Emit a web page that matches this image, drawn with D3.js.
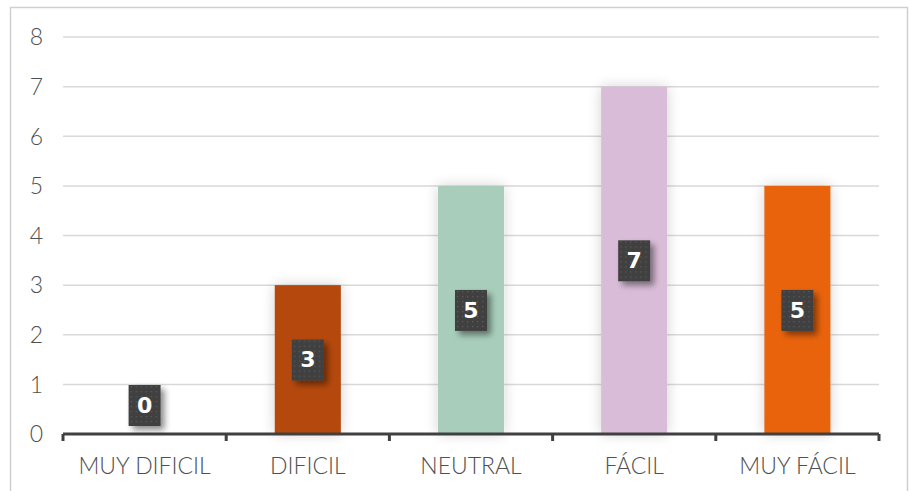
<!DOCTYPE html>
<html><head><meta charset="utf-8">
<script src="https://cdn.jsdelivr.net/npm/d3@7"></script>
<style>body{margin:0;background:#fff}svg{display:block}</style>
</head><body>
<svg id="c" width="912" height="491"></svg>
<script>
const categories = ["MUY DIFICIL", "DIFICIL", "NEUTRAL", "FÁCIL", "MUY FÁCIL"];
const values = [0, 3, 5, 7, 5];
const colors = ["#B5490F", "#B5490F", "#A8CEBB", "#D9BDD8", "#E96410"];
const yTicks = [0, 1, 2, 3, 4, 5, 6, 7, 8];

const svg = d3.select("#c");
const W = 912, H = 491;
const m = {left: 63, right: 33, top: 37, bottom: 57};
const x = d3.scaleBand().domain(categories).range([m.left, W - m.right]).padding(0);
const y = d3.scaleLinear().domain([0, 8]).range([H - m.bottom, m.top]);

const defs = svg.append("defs");
const glow = defs.append("filter").attr("id", "glow").attr("x", "-50%").attr("y", "-20%").attr("width", "200%").attr("height", "140%");
glow.append("feGaussianBlur").attr("in", "SourceAlpha").attr("stdDeviation", 7).attr("result", "b");
glow.append("feComponentTransfer").attr("in", "b").attr("result", "c")
  .append("feFuncA").attr("type", "linear").attr("slope", 0.18);
const gm = glow.append("feMerge");
gm.append("feMergeNode").attr("in", "c");
gm.append("feMergeNode").attr("in", "SourceGraphic");

const sh = defs.append("filter").attr("id", "sh").attr("x", "-50%").attr("y", "-50%").attr("width", "200%").attr("height", "200%");
sh.append("feGaussianBlur").attr("in", "SourceAlpha").attr("stdDeviation", 3).attr("result", "b");
sh.append("feOffset").attr("in", "b").attr("dx", 4).attr("dy", 4).attr("result", "o");
sh.append("feComponentTransfer").attr("in", "o").attr("result", "c")
  .append("feFuncA").attr("type", "linear").attr("slope", 0.45);
const sm = sh.append("feMerge");
sm.append("feMergeNode").attr("in", "c");
sm.append("feMergeNode").attr("in", "SourceGraphic");

const pat = defs.append("pattern").attr("id", "dots").attr("width", 5).attr("height", 5).attr("patternUnits", "userSpaceOnUse");
pat.append("rect").attr("width", 5).attr("height", 5).attr("fill", "#404040");
pat.append("rect").attr("x", 1).attr("y", 1).attr("width", 1.3).attr("height", 1.3).attr("fill", "#5a5a5a");

// chart border
svg.append("rect").attr("x", 10.5).attr("y", 7.5).attr("width", 897).attr("height", 500)
  .attr("fill", "none").attr("stroke", "#d0d0d0").attr("stroke-width", 1.5);

// gridlines
svg.append("g").selectAll("line").data(yTicks.filter(d => d > 0)).join("line")
  .attr("x1", m.left).attr("x2", W - m.right)
  .attr("y1", d => y(d)).attr("y2", d => y(d))
  .attr("stroke", "#d9d9d9").attr("stroke-width", 1.5);

const FONT = "Lato, 'Open Sans', sans-serif";
// y labels
svg.append("g").selectAll("text").data(yTicks).join("text")
  .attr("x", 43).attr("y", d => y(d)).attr("dy", "0.36em")
  .attr("text-anchor", "end").attr("fill", "#505050")
  .attr("font-family", FONT).attr("font-size", 23).attr("font-weight", 300)
  .text(d => d);

// bars
const bw = x.bandwidth() * 0.405;
svg.append("g").selectAll("rect").data(values).join("rect")
  .attr("x", (d, i) => x(categories[i]) + (x.bandwidth() - bw) / 2)
  .attr("y", d => y(d)).attr("width", bw).attr("height", d => y(0) - y(d))
  .attr("fill", (d, i) => colors[i]).attr("filter", "url(#glow)");

// x axis
const xa = svg.append("g").attr("transform", `translate(0,${y(0)})`)
  .call(d3.axisBottom(x).tickSize(0).tickFormat(d => d));
xa.select(".domain").remove();
xa.selectAll("text").attr("y", 40).attr("dy", 0).attr("fill", "#505050")
  .attr("font-family", FONT).attr("font-size", 23).attr("font-weight", 300);
svg.append("line").attr("x1", m.left).attr("x2", W - m.right).attr("y1", y(0)).attr("y2", y(0))
  .attr("stroke", "#404040").attr("stroke-width", 3);
const edges = categories.map(c => x(c)).concat([W - m.right]);
svg.append("g").selectAll("line").data(edges).join("line")
  .attr("x1", d => d).attr("x2", d => d).attr("y1", y(0)).attr("y2", y(0) + 7)
  .attr("stroke", "#404040").attr("stroke-width", 3);

// labels
const lg = svg.append("g").selectAll("g").data(values).join("g")
  .attr("transform", (d, i) => {
    const cx = x(categories[i]) + x.bandwidth() / 2;
    const cy = d === 0 ? y(0) - 29 : (y(d) + y(0)) / 2;
    return `translate(${cx},${cy})`;
  });
lg.append("rect").attr("x", -16).attr("y", -20).attr("width", 32).attr("height", 41)
  .attr("fill", "url(#dots)").attr("filter", "url(#sh)");
lg.append("text").attr("text-anchor", "middle").attr("dy", "0.36em")
  .attr("fill", "#fff").attr("font-family", "'DejaVu Sans', sans-serif").attr("font-weight", "bold").attr("font-size", 22)
  .text(d => d);
</script>
</body></html>
